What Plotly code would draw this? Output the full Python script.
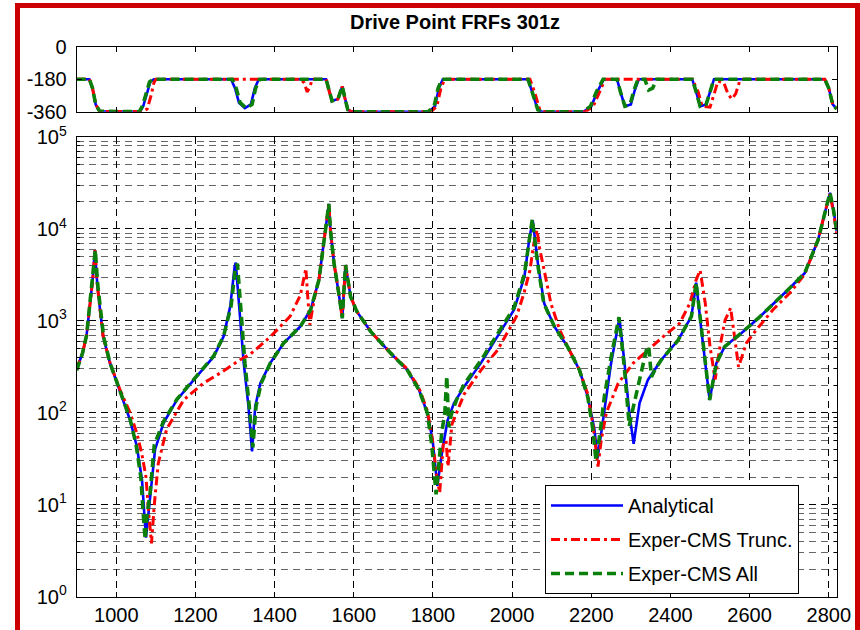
import plotly.graph_objects as go

# ---------------- data ----------------
freq_analytical = [900, 915, 925, 934, 940, 946, 952, 959, 967, 984, 1010, 1035, 1052, 1065, 1075, 1086, 1098,
                   1119, 1153, 1200, 1246, 1271, 1288, 1299, 1302, 1306, 1313, 1322, 1334, 1343, 1351, 1364,
                   1389, 1423, 1465, 1491, 1512, 1529, 1537, 1541, 1550, 1562, 1571, 1579, 1592, 1608, 1643,
                   1693, 1735, 1765, 1786, 1799, 1811, 1824, 1837, 1853, 1879, 1921, 1963, 2005, 2031, 2043,
                   2052, 2065, 2081, 2107, 2140, 2170, 2191, 2208, 2216, 2233, 2250, 2271, 2284, 2296, 2307,
                   2322, 2343, 2377, 2419, 2453, 2465, 2478, 2491, 2499, 2516, 2537, 2579, 2622, 2697, 2739,
                   2773, 2790, 2803, 2812, 2820]
mag_analytical = [300, 450, 700, 1550, 2700, 5900, 2500, 1320, 670, 350, 166, 83, 43, 18.6, 4.4, 12.3, 40,
                  77, 138, 240, 408, 675, 1450, 3900, 4300, 2500, 1120, 347, 117, 38, 117, 210,
                  347, 575, 870, 1320, 2800, 9700, 18700, 9700, 4260, 2000, 1070, 4050, 1830, 1260, 764,
                  446, 293, 177, 99, 51, 16, 40, 83, 127, 193, 347, 670, 1320, 3000, 7560,
                  12500, 4250, 1550, 865, 525, 293, 150, 66, 32, 100, 347, 1070, 347, 100, 46,
                  128, 228, 378, 614, 1120, 2600, 800, 246, 138, 347, 525, 735, 1070, 2180, 3300,
                  7600, 15000, 24700, 16000, 9500]

freq_trunc = [900, 915, 925, 934, 940, 946, 952, 959, 967, 984, 1010, 1035, 1052, 1065, 1075, 1082, 1089,
              1096, 1106, 1127, 1170, 1220, 1262, 1313, 1340, 1389, 1439, 1465, 1472, 1479, 1483, 1489,
              1495, 1505, 1512, 1529, 1537, 1541, 1550, 1562, 1571, 1579, 1592, 1608, 1643, 1693, 1735,
              1765, 1786, 1799, 1810, 1817, 1826, 1833, 1838, 1848, 1860, 1879, 1921, 1963, 2011, 2030,
              2045, 2055, 2063, 2070, 2081, 2098, 2120, 2140, 2170, 2191, 2205, 2217, 2225, 2238, 2268,
              2306, 2343, 2381, 2423, 2449, 2465, 2475, 2488, 2500, 2513, 2525, 2538, 2552, 2562, 2572,
              2592, 2617, 2659, 2701, 2739, 2773, 2790, 2803, 2812, 2820]
mag_trunc = [300, 450, 700, 1550, 2700, 5900, 2500, 1320, 670, 350, 175, 100, 60, 35, 20, 8, 3.8,
             10, 28, 66, 138, 210, 270, 378, 440, 670, 1120, 1900, 2570, 3720, 2000, 910,
             1300, 2200, 2800, 9700, 18700, 9700, 4260, 2000, 1070, 4050, 1830, 1260, 764, 446, 300,
             185, 105, 50, 20, 13.5, 45, 50, 26, 75, 100, 160, 290, 480, 1120, 2000,
             3550, 7000, 9700, 6000, 3550, 1550, 800, 525, 293, 160, 70, 26, 50, 100, 210,
             347, 480, 670, 940, 1550, 2800, 3550, 1550, 525, 230, 525, 1020, 1380, 670, 316,
             575, 800, 1320, 2000, 3200, 7600, 15000, 24000, 15000, 9000]

freq_all = [900, 915, 925, 934, 940, 947, 953, 960, 968, 984, 1010, 1035, 1050, 1062, 1068, 1073, 1078,
            1086, 1096, 1119, 1153, 1200, 1246, 1271, 1290, 1300, 1306, 1310, 1316, 1325, 1336, 1345,
            1353, 1366, 1389, 1423, 1465, 1491, 1512, 1529, 1537, 1541, 1550, 1562, 1571, 1579, 1592,
            1608, 1643, 1693, 1735, 1765, 1786, 1797, 1808, 1815, 1822, 1830, 1835, 1840, 1846, 1860,
            1879, 1921, 1963, 2005, 2031, 2043, 2051, 2064, 2080, 2107, 2140, 2170, 2191, 2204, 2212,
            2222, 2233, 2250, 2270, 2283, 2291, 2296, 2305, 2318, 2330, 2340, 2345, 2352, 2362, 2377,
            2419, 2453, 2465, 2478, 2491, 2499, 2516, 2537, 2579, 2622, 2697, 2739, 2773, 2790, 2803,
            2812, 2820]
mag_all = [290, 450, 700, 1550, 2700, 5900, 2500, 1320, 670, 350, 166, 85, 45, 20, 8, 4.2, 8,
           14, 45, 80, 140, 245, 415, 680, 1450, 3500, 4200, 2500, 1100, 347, 117, 42,
           117, 210, 347, 575, 870, 1320, 2800, 9700, 18700, 9700, 4260, 2000, 1070, 4050, 1830,
           1260, 764, 446, 293, 177, 99, 45, 13, 28, 60, 100, 250, 70, 95, 140,
           205, 370, 710, 1400, 3200, 8000, 12800, 4300, 1550, 865, 525, 293, 150, 66, 30,
           60, 150, 400, 1100, 330, 110, 72, 110, 200, 330, 500, 530, 246, 300, 378,
           614, 1120, 2600, 800, 246, 138, 347, 525, 735, 1070, 2180, 3300, 7600, 15000, 24700,
           16000, 9500]

pfreq_analytical = [900, 932, 940, 948, 958, 1060, 1068, 1078, 1086, 1095, 1290, 1300, 1310, 1325, 1340,
                    1350, 1360, 1530, 1537, 1545, 1560, 1571, 1577, 1585, 1595, 1790, 1805, 1815, 1825,
                    2040, 2052, 2065, 2075, 2180, 2200, 2215, 2232, 2265, 2275, 2285, 2300, 2310, 2320,
                    2455, 2465, 2475, 2490, 2500, 2510, 2790, 2800, 2810, 2820]
phase_analytical = [-180, -180, -230, -320, -358, -360, -330, -250, -195, -180, -180, -230, -310, -340, -320,
                    -230, -180, -180, -240, -300, -290, -220, -280, -350, -360, -360, -330, -230, -180,
                    -180, -260, -350, -360, -360, -330, -250, -180, -180, -260, -330, -320, -240, -180,
                    -180, -250, -330, -320, -250, -180, -180, -230, -320, -345]

pfreq_trunc = [900, 932, 940, 948, 958, 1065, 1078, 1088, 1095, 1100, 1465, 1475, 1482, 1488, 1495,
               1530, 1537, 1545, 1560, 1571, 1577, 1585, 1595, 1795, 1810, 1820, 1830, 2045, 2058, 2070,
               2080, 2185, 2205, 2220, 2235, 2455, 2470, 2480, 2500, 2512, 2520, 2535, 2545, 2555, 2565,
               2575, 2585, 2790, 2800, 2810, 2820]
phase_trunc = [-180, -180, -230, -320, -358, -360, -345, -270, -200, -180, -180, -200, -250, -230, -180,
               -180, -240, -300, -290, -220, -280, -350, -360, -360, -330, -230, -180, -180, -260, -350,
               -360, -360, -330, -250, -180, -180, -250, -330, -335, -250, -190, -200, -260, -290, -260,
               -190, -180, -180, -230, -320, -345]

pfreq_all = [900, 932, 940, 948, 958, 1058, 1066, 1076, 1084, 1093, 1293, 1303, 1313, 1328, 1343,
             1352, 1362, 1530, 1537, 1545, 1560, 1571, 1577, 1585, 1595, 1788, 1803, 1813, 1823,
             2040, 2052, 2065, 2075, 2178, 2198, 2213, 2230, 2265, 2275, 2285, 2298, 2308, 2318,
             2335, 2345, 2355, 2365, 2455, 2465, 2475, 2490, 2500, 2510, 2790, 2800, 2810, 2820]
phase_all = [-180, -180, -230, -320, -358, -360, -330, -250, -195, -180, -180, -230, -310, -340, -320,
             -230, -180, -180, -240, -300, -290, -220, -280, -350, -360, -360, -330, -230, -180,
             -180, -260, -350, -360, -360, -330, -250, -180, -180, -260, -330, -320, -240, -180,
             -180, -240, -230, -180, -180, -250, -330, -320, -250, -180, -180, -230, -320, -345]

series_names = ["Analytical", "Exper-CMS Trunc.", "Exper-CMS All"]
x_ticks = [1000, 1200, 1400, 1600, 1800, 2000, 2200, 2400, 2600, 2800]
y_ticks = [1, 10, 100, 1000, 10000, 100000]
y_ticklabels = ["10<sup>0</sup>", "10<sup>1</sup>", "10<sup>2</sup>", "10<sup>3</sup>", "10<sup>4</sup>", "10<sup>5</sup>"]
phase_ticks = [0, -180, -360]
phase_ticklabels = ["0", "-180", "-360"]
title_text = "Drive Point FRFs 301z"

# ---------------- styling ----------------
W, H = 860, 630
FONT = "Liberation Sans, Arial, sans-serif"
styles = [
    dict(color="#0000FF", width=2.6, dash="solid"),
    dict(color="#FF0000", width=3.0, dash="9px,4px,3px,4px"),
    dict(color="#0A800A", width=3.6, dash="9px,5px"),
]

def px_x(p):
    return p / W

def px_y(p):
    return 1 - p / H

fig = go.Figure()

mag_sets = [(freq_analytical, mag_analytical), (freq_trunc, mag_trunc), (freq_all, mag_all)]
ph_sets = [(pfreq_analytical, phase_analytical), (pfreq_trunc, phase_trunc), (pfreq_all, phase_all)]

for i, (name, st) in enumerate(zip(series_names, styles)):
    fx, fy = mag_sets[i]
    fig.add_trace(go.Scatter(x=fx, y=fy, mode="lines", name=name, line=st,
                             legendgroup=name, xaxis="x", yaxis="y"))
for i, (name, st) in enumerate(zip(series_names, styles)):
    fx, fy = ph_sets[i]
    fig.add_trace(go.Scatter(x=fx, y=fy, mode="lines", name=name, line=st,
                             showlegend=False, legendgroup=name, xaxis="x2", yaxis="y2"))

x_dom = [px_x(76.7), px_x(836.7)]
x_range = [900, 2820]

common_x = dict(range=x_range, domain=x_dom, tickvals=x_ticks, ticks="inside", ticklen=5,
                tickcolor="black", showline=True, linecolor="black", linewidth=1, mirror="ticks",
                zeroline=False, automargin=False,
                tickfont=dict(family=FONT, size=20, color="black"))

fig.update_layout(
    width=W, height=H,
    margin=dict(l=0, r=0, t=0, b=0, autoexpand=False),
    paper_bgcolor="white", plot_bgcolor="white",
    font=dict(family=FONT, color="black"),
    xaxis=dict(anchor="y", showgrid=True, gridcolor="black", griddash="7px,5px", gridwidth=1,
               **common_x),
    yaxis=dict(type="log", range=[0, 5], domain=[px_y(596.7), px_y(137)], anchor="x",
               tickvals=y_ticks, ticktext=y_ticklabels, ticks="inside", ticklen=5, tickcolor="black",
               showline=True, linecolor="black", linewidth=1, mirror="ticks", automargin=False,
               showgrid=True, gridcolor="black", griddash="7px,5px", gridwidth=1,
               ticklabelstandoff=5,
               minor=dict(dtick="D1", ticks="inside", ticklen=3, tickcolor="black",
                          showgrid=True, gridcolor="#666666", griddash="7px,5px", gridwidth=1.4),
               tickfont=dict(family=FONT, size=20, color="black")),
    xaxis2=dict(anchor="y2", showgrid=False, showticklabels=False, **common_x),
    yaxis2=dict(range=[-360, 0], domain=[px_y(111.7), px_y(46.7)], anchor="x2",
                tickvals=phase_ticks, ticktext=phase_ticklabels, ticks="inside", ticklen=5,
                tickcolor="black", showline=True, linecolor="black", linewidth=1, mirror="ticks",
                showgrid=False, zeroline=False, ticklabelstandoff=5, automargin=False,
                tickfont=dict(family=FONT, size=20, color="black")),
    legend=dict(x=px_x(545), y=px_y(485), xanchor="left", yanchor="top",
                bgcolor="white", bordercolor="black", borderwidth=1,
                font=dict(family=FONT, size=20, color="black"),
                itemwidth=72, tracegroupgap=5, traceorder="grouped"),
    showlegend=True,
)

fig.add_annotation(text="<b>" + title_text + "</b>", xref="paper", yref="paper",
                   x=px_x(455), y=px_y(22), xanchor="center", yanchor="middle",
                   showarrow=False, font=dict(family=FONT, size=20, color="black"))

# red frame around the figure
fig.add_shape(type="rect", xref="paper", yref="paper",
              x0=px_x(17.5), x1=px_x(857.5), y0=-0.05, y1=px_y(5.5),
              line=dict(color="#CC0000", width=5), fillcolor="rgba(0,0,0,0)", layer="above")

fig.write_html("out.html")
